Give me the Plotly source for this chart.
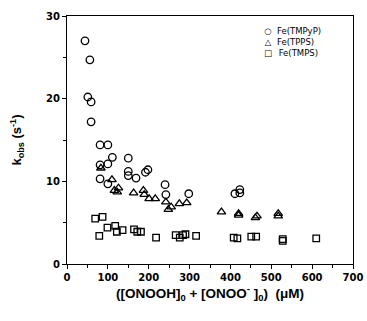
import plotly.graph_objects as go

# Fe(TMPyP) - circles
circ_x = [44, 56, 51, 59, 59, 81, 100, 111, 150, 81, 100, 81, 100, 150, 150, 169, 192, 198, 240, 242, 298, 411, 423, 423]
circ_y = [27.0, 24.7, 20.2, 19.6, 17.2, 14.4, 14.4, 12.9, 12.8, 12.0, 12.1, 10.3, 9.7, 11.2, 10.7, 10.4, 11.1, 11.4, 9.6, 8.4, 8.5, 8.5, 9.0, 8.6]
# Fe(TPPS) - triangles
tri_x = [83, 110, 116, 123, 126, 163, 187, 189, 201, 216, 242, 248, 255, 275, 293, 378, 420, 420, 461, 465, 517, 517]
tri_y = [11.6, 10.2, 8.9, 8.7, 9.2, 8.6, 8.9, 8.4, 7.9, 7.9, 7.5, 6.6, 6.9, 7.3, 7.4, 6.3, 5.9, 6.1, 5.6, 5.8, 5.8, 6.1]
# Fe(TMPS) - squares
sq_x = [69, 87, 79, 99, 118, 122, 136, 164, 172, 181, 218, 266, 276, 284, 290, 316, 408, 417, 451, 463, 528, 528, 610]
sq_y = [5.5, 5.7, 3.4, 4.4, 4.6, 3.9, 4.1, 4.2, 3.9, 3.9, 3.2, 3.5, 3.2, 3.5, 3.6, 3.4, 3.2, 3.1, 3.3, 3.3, 3.0, 2.8, 3.1]

series_names = ["Fe(TMPyP)", "Fe(TPPS)", "Fe(TMPS)"]
legend_glyphs = ["○", "△", "□"]

x_tickvals = [0, 100, 200, 300, 400, 500, 600, 700]
y_tickvals = [0, 10, 20, 30]

fig = go.Figure()
mk = dict(color="rgba(0,0,0,0)", line=dict(color="black", width=1.3))
fig.add_trace(go.Scatter(x=circ_x, y=circ_y, mode="markers", name=series_names[0],
                         marker=dict(symbol="circle", size=7.5, **mk)))
fig.add_trace(go.Scatter(x=tri_x, y=tri_y, mode="markers", name=series_names[1],
                         marker=dict(symbol="triangle-up", size=7.5, **mk)))
fig.add_trace(go.Scatter(x=sq_x, y=sq_y, mode="markers", name=series_names[2],
                         marker=dict(symbol="square", size=6.5, **mk)))

tickfont = dict(family="DejaVu Sans", size=10, color="black", weight="bold")

# compact legend drawn as text (glyph column + name column)
annotations = [
    dict(xref="paper", yref="paper", x=0.703, y=0.968, text="<br>".join(legend_glyphs),
         showarrow=False, xanchor="center", yanchor="top", align="center",
         font=dict(family="DejaVu Sans", size=8.5, color="black", weight="bold")),
    dict(xref="paper", yref="paper", x=0.728, y=0.968,
         text="<br>".join(series_names[:2] + ["\u2009" + series_names[2]]),
         showarrow=False, xanchor="left", yanchor="top", align="left",
         font=dict(family="DejaVu Sans", size=8.5, color="black")),
]

fig.update_layout(
    width=367, height=321,
    margin=dict(l=67, r=14, t=16, b=57, autoexpand=False),
    paper_bgcolor="white", plot_bgcolor="white",
    showlegend=False,
    annotations=annotations,
    xaxis=dict(range=[0, 700], tickvals=x_tickvals, automargin=False,
               ticks="outside", ticklen=4, tickwidth=1, tickcolor="black",
               showline=True, linecolor="black", linewidth=1, mirror=True,
               showgrid=False, zeroline=False, tickfont=tickfont,
               minor=dict(dtick=50, tick0=0, ticks="outside", ticklen=3, tickcolor="black", showgrid=False),
               title=dict(text="([ONOOH]<sub>0</sub> + [ONOO<sup>-</sup> ]<sub>0</sub>)  (μM)",
                          font=dict(family="Liberation Sans, Arial", size=13.5, color="black", weight="bold"),
                          standoff=5)),
    yaxis=dict(range=[0, 30], tickvals=y_tickvals, automargin=False,
               ticks="outside", ticklen=4, tickwidth=1, tickcolor="black",
               showline=True, linecolor="black", linewidth=1, mirror=True,
               showgrid=False, zeroline=False, tickfont=tickfont,
               minor=dict(dtick=5, tick0=0, ticks="outside", ticklen=3, tickcolor="black", showgrid=False),
               title=dict(text="k<sub>obs</sub> (s<sup>-1</sup>)",
                          font=dict(family="Liberation Sans, Arial", size=13, color="black", weight="bold"),
                          standoff=21)),
)

fig.write_html("out.html", config={"displayModeBar": False},
               post_script="document.body.style.margin='0';")
